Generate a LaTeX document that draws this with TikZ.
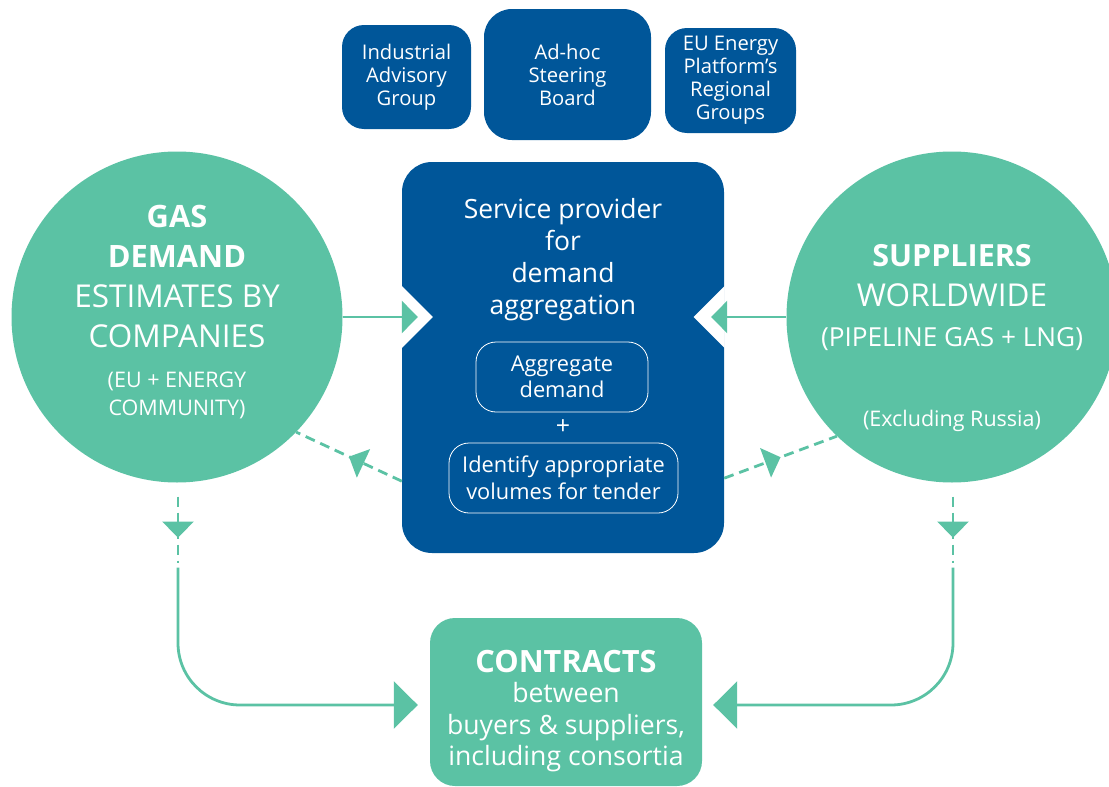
\documentclass[tikz,border=0pt]{standalone}
\usepackage{fontspec}
\setmainfont{Open Sans}
\usepackage{tikz}
\usetikzlibrary{arrows.meta,calc,decorations.markings}
\definecolor{eugreen}{RGB}{91,194,164}
\definecolor{eublue}{RGB}{0,86,153}
\newcommand{\setfs}[2]{\fontsize{#1}{#2}\selectfont}
\tikzset{
  bluebox/.style={fill=eublue, rounded corners=22pt, text=white, align=center, inner sep=0pt, font={\setfs{20.2}{23}}},
  stepbox/.style={draw=white, line width=0.8pt, rounded corners=20pt, text=white, align=center, inner sep=0pt, font={\setfs{21.8}{26.5}}},
  bubble/.style={circle, fill=eugreen, minimum size=331pt, inner sep=0pt},
  bubbletext/.style={anchor=north, text=white, align=center, inner sep=0pt, font={\setfs{31.5}{40}}},
  flow/.style={draw=eugreen, line width=2.8pt, -{Triangle[width=32pt,length=16pt]}},
  bigflow/.style={draw=eugreen, line width=2.8pt, rounded corners=62pt, -{Triangle[width=47pt,length=24pt]}},
  dashflow/.style={draw=eugreen, line width=2.8pt, dash pattern=on 10pt off 6pt,
    postaction={decorate}, decoration={markings, mark=at position #1 with {\arrow{Triangle[width=31pt,length=16pt]}}}},
  dashflow/.default=0.5
}

\begin{document}
\begin{tikzpicture}[x=1pt,y=-1pt]
    \clip (0,0) rectangle (1109,787);
    % boards on top
    \node[bluebox, minimum width=129pt, minimum height=104pt] (advisory) at (406.5,77) {Industrial\\Advisory\\Group};
    \node[bluebox, minimum width=167pt, minimum height=131pt, rounded corners=28pt] (steering) at (567.5,74.5) {Ad-hoc\\Steering\\Board};
    \node[bluebox, minimum width=131pt, minimum height=105pt] (platform) at (730.5,80.5) {EU Energy\\Platform’s\\Regional\\Groups};
    % service provider
    \node[bluebox, minimum width=322pt, minimum height=391pt, rounded corners=30pt] (provider) at (563,357.5) {};
    \node[anchor=north, text=white, align=center, inner sep=0pt, font={\setfs{26.5}{32}}] (providertitle) at (563,198) {Service provider\\for\\demand\\aggregation};
    \node[stepbox, minimum width=172pt, minimum height=70pt] (aggregate) at (562,377) {Aggregate\\demand};
    \node[text=white, inner sep=0pt, font={\setfs{25}{26}}] (plus) at (563,427) {+};
    \node[stepbox, minimum width=229pt, minimum height=70pt] (identify) at (563.5,478) {Identify appropriate\\volumes for tender};
    % notches in the provider box
    \fill[white] ($(provider.west)+(0,-71.5)$) -- ++(31,31) -- ++(-31,31) -- cycle;
    \fill[white] ($(provider.east)+(0.5,-71.5)$) -- ++(-31,31) -- ++(31,31) -- cycle;
    % demand and suppliers
    \node[bubble] (demand) at (177,317) {};
    \node[bubbletext] (demandtext) at (177,205.2) {\setfs{30.8}{40}\bfseries GAS\\ \setfs{30.8}{40}\bfseries DEMAND\\ \mdseries ESTIMATES BY\\ \mdseries COMPANIES\\ \setfs{21.5}{28}(EU + ENERGY\\[-12pt] \setfs{21.5}{28}COMMUNITY)};
    \node[bubble] (supply) at (952,317) {};
    \node[bubbletext] (supplytext) at (952,244.2) {\setfs{30.5}{40}\bfseries SUPPLIERS\\ \mdseries WORLDWIDE\\ \setfs{26.2}{40}(PIPELINE GAS + LNG)\\[40pt] \setfs{21.5}{28}(Excluding Russia)};
    % contracts
    \node[bluebox, fill=eugreen, minimum width=272pt, minimum height=168pt, rounded corners=25pt] (contracts) at (566,702) {};
    \node[anchor=north, text=white, align=center, inner sep=0pt, font={\setfs{26.6}{31.5}}] (contractstext) at (566,650.1) {\setfs{30.7}{31.5}\bfseries CONTRACTS\\[-1.5pt] between\\ buyers \& suppliers,\\ including consortia};
    % arrows into the provider
    \coordinate (inL) at ($(provider.west)+(16,-40.5)$);
    \coordinate (inR) at ($(provider.east)+(-13,-40.5)$);
    \draw[flow] (demand.east) -- (inL);
    \draw[flow] (supply.west) -- (inR);
    \draw[dashflow] ($(provider.south west)+(0,-72)$) -- (demand.-44);
    \draw[dashflow] ($(provider.south east)+(0,-75)$) -- (supply.-134);
    % down to the contracts
    \coordinate (gapL) at ($(demand.south)+(1,14)$);
    \coordinate (bendL) at ($(demand.south)+(1,80)$);
    \coordinate (solidL) at ($(demand.south)+(1,85)$);
    \coordinate (inCL) at ($(contracts.west)+(-12,3)$);
    \draw[dashflow=0.62] (gapL) -- (bendL);
    \draw[bigflow] (solidL) |- (inCL);
    \coordinate (gapR) at ($(supply.south)+(1,14)$);
    \coordinate (bendR) at ($(supply.south)+(1,80)$);
    \coordinate (solidR) at ($(supply.south)+(1,85)$);
    \coordinate (inCR) at ($(contracts.east)+(11,3)$);
    \draw[dashflow=0.62] (gapR) -- (bendR);
    \draw[bigflow] (solidR) |- (inCR);
\end{tikzpicture}
\end{document}
